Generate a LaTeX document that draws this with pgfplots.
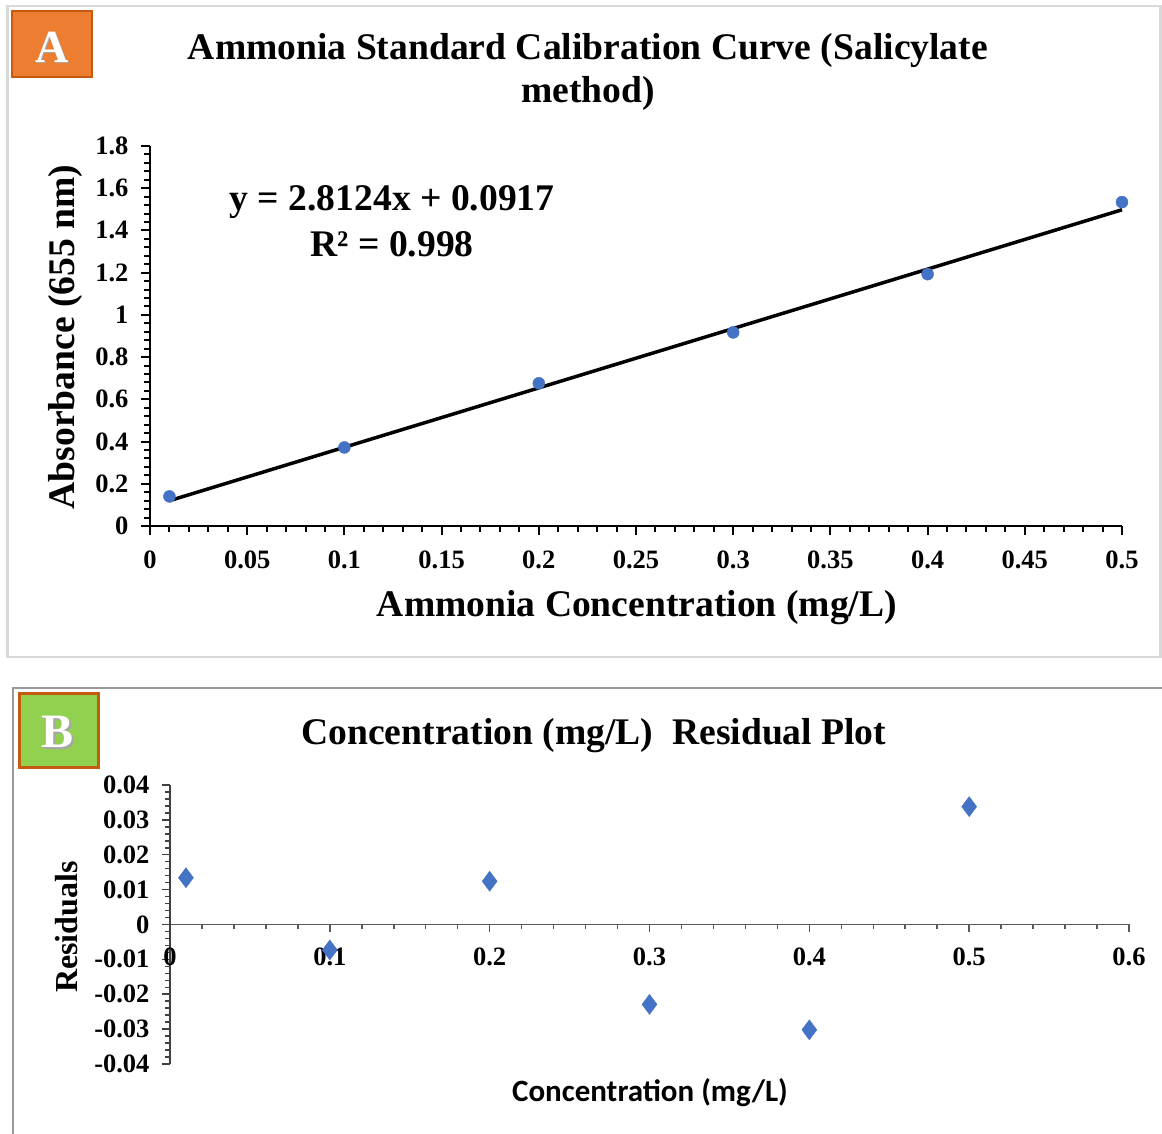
\documentclass[border=0pt]{standalone}
\usepackage{fontspec}
\setmainfont{Liberation Serif}
\newfontfamily\calibri{Carlito}
\usepackage{pgfplots}
\pgfplotsset{compat=1.18}
\definecolor{ptblue}{HTML}{4472C4}
\definecolor{aorange}{HTML}{ED7D31}
\definecolor{aorangedark}{HTML}{C55A11}
\definecolor{bgreen}{HTML}{92D050}
\newcommand{\bigf}{\fontsize{37.6}{43}\selectfont\bfseries}
\newcommand{\tickf}{\fontsize{26.5}{30}\selectfont\bfseries}
\begin{document}
\begin{tikzpicture}[x=1pt,y=1pt]
\useasboundingbox (0,0) rectangle (1162,1134);
\fill[white] (0,0) rectangle (1162,1134);
% panel frames
\draw[line width=2.5pt, color=black!15] (7.5,1128) rectangle (1160.5,477);
\draw[line width=2pt, color=black!40] (13,-5) -- (13,446) -- (1170,446);

% ---------- Panel A ----------
\begin{axis}[
  at={(150pt,608pt)}, anchor=south west, scale only axis,
  width=972pt, height=380pt,
  xmin=0, xmax=0.5, ymin=0, ymax=1.8,
  axis lines*=left,
  axis line style={line width=2.2pt, black},
  xtick={0,0.05,0.1,0.15,0.2,0.25,0.3,0.35,0.4,0.45,0.5},
  xticklabels={0,0.05,0.1,0.15,0.2,0.25,0.3,0.35,0.4,0.45,0.5},
  ytick={0,0.2,0.4,0.6,0.8,1,1.2,1.4,1.6,1.8},
  yticklabels={0,0.2,0.4,0.6,0.8,1,1.2,1.4,1.6,1.8},
  minor x tick num=4, minor y tick num=4,
  tick align=outside, major tick length=9pt, minor tick length=6pt,
  tick style={line width=2pt, black},
  tick label style={font=\tickf},
  x tick label style={yshift=-12pt},
  y tick label style={xshift=-9pt},
  title={Ammonia Standard Calibration Curve (Salicylate\\method)},
  title style={font=\bigf, align=center, anchor=center,
    at={(axis description cs:0.4506,1.18)}},
  xlabel={Ammonia Concentration (mg/L)},
  x label style={font=\bigf, anchor=center, at={(axis description cs:0.501,-0.215)}},
  ylabel={Absorbance (655 nm)},
  y label style={font=\bigf, anchor=center, rotate=0, at={(axis description cs:-0.0874,0.497)}},
  clip=false,
]
\addplot[only marks, mark=*, mark size=6pt, color=ptblue, mark options={draw=ptblue, fill=ptblue}]
  coordinates {(0.01,0.140) (0.1,0.372) (0.2,0.676) (0.3,0.917) (0.4,1.193) (0.5,1.534)};
\addplot[black, line width=3.5pt] coordinates {(0.01,0.1198) (0.5,1.4979)};
\end{axis}
\node[font=\bigf] at (392,932) {y = 2.8124x + 0.0917};
\node[font=\bigf] at (392,890) {R² = 0.998};

% label box A
\draw[line width=2.5pt, draw=aorangedark, fill=aorange] (12,1123) rectangle (92,1057);
\node[font=\fontsize{46}{50}\selectfont\bfseries, text=black!35] at (53.5,1085.5) {A};
\node[font=\fontsize{46}{50}\selectfont\bfseries, text=white] at (52,1087) {A};

% ---------- Panel B ----------
\begin{axis}[
  at={(170pt,70pt)}, anchor=south west, scale only axis,
  width=959pt, height=279pt,
  xmin=0, xmax=0.6, ymin=-0.04, ymax=0.04,
  axis x line*=middle, axis y line*=left,
  x axis line style={line width=1.8pt, black!65},
  y axis line style={line width=1.8pt, black!75},
  xtick={0,0.1,0.2,0.3,0.4,0.5,0.6},
  xticklabels={0,0.1,0.2,0.3,0.4,0.5,0.6},
  ytick={-0.04,-0.03,-0.02,-0.01,0,0.01,0.02,0.03,0.04},
  yticklabels={-0.04,-0.03,-0.02,-0.01,0,0.01,0.02,0.03,0.04},
  scaled y ticks=false, scaled x ticks=false,
  minor x tick num=4, minor y tick num=4,
  hide obscured x ticks=false, hide obscured y ticks=false,
  xtick align=outside, ytick align=outside,
  major tick length=8pt, minor tick length=5pt,
  x tick style={line width=1.5pt, black!65},
  y tick style={line width=1.5pt, black!75},
  tick label style={font=\tickf},
  x tick label style={yshift=-12pt},
  y tick label style={xshift=-9pt},
  title={Concentration (mg/L)\enspace Residual Plot},
  title style={font=\bigf, anchor=center, at={(axis description cs:0.442,1.154)}},
  xlabel={\calibri Concentration (mg/L)},
  x label style={font=\fontsize{31}{35}\selectfont\bfseries, anchor=center, at={(axis description cs:0.5005,-0.102)}},
  ylabel={Residuals},
  y label style={font=\fontsize{32}{36}\selectfont\bfseries, anchor=center, rotate=0, at={(axis description cs:-0.1074,0.491)}},
  clip=false,
]
\addplot[only marks, mark=diamond*, mark size=10pt, color=ptblue, mark options={draw=ptblue, fill=ptblue}]
  coordinates {(0.01,0.0134) (0.1,-0.0073) (0.2,0.0124) (0.3,-0.0229) (0.4,-0.0302) (0.5,0.0338)};
\end{axis}

% label box B
\draw[line width=3pt, draw=aorangedark, fill=bgreen] (19,440) rectangle (98,366);
\node[font=\fontsize{48}{52}\selectfont\bfseries, text=black!35] at (59.5,400.5) {B};
\node[font=\fontsize{48}{52}\selectfont\bfseries, text=white] at (58,402) {B};
\end{tikzpicture}
\end{document}
